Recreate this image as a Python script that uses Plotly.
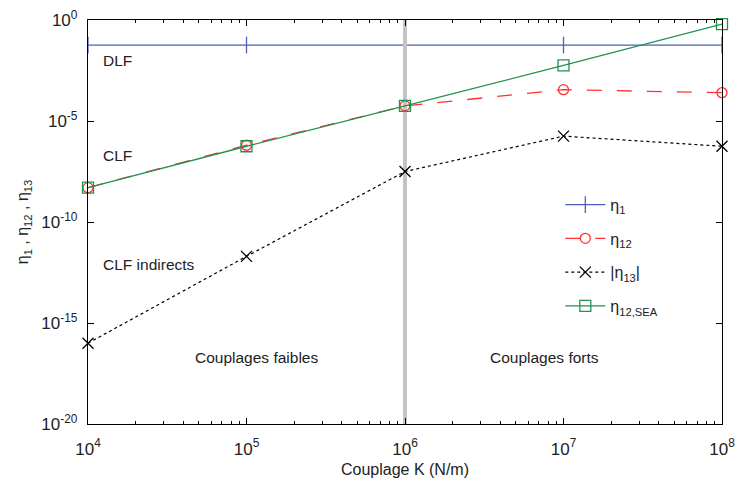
import plotly.graph_objects as go

K = [1e4, 1e5, 1e6, 1e7, 1e8]
eta1 = [10**-1.24] * 5
eta12 = [10**-8.3, 10**-6.2, 10**-4.25, 10**-3.45, 10**-3.6]
eta13 = [10**-16.0, 10**-11.7, 10**-7.5, 10**-5.75, 10**-6.25]
eta12_sea = [10**-8.3, 10**-6.25, 10**-4.25, 10**-2.25, 10**-0.2]
sep_x = [1e6, 1e6]
sep_y = [1e0, 1e-20]

x_tickvals = [1e4, 1e5, 1e6, 1e7, 1e8]
x_ticktext = ["10<sup>4</sup>", "10<sup>5</sup>", "10<sup>6</sup>", "10<sup>7</sup>", "10<sup>8</sup>"]
y_tickvals = [1e0, 1e-5, 1e-10, 1e-15, 1e-20]
y_ticktext = ["10<sup>0</sup>", "10<sup>-5</sup>", "10<sup>-10</sup>", "10<sup>-15</sup>", "10<sup>-20</sup>"]
x_minor = [m * 10**d for d in range(4, 8) for m in range(2, 10)]

FONT = "Liberation Sans, Arial, sans-serif"

fig = go.Figure()

fig.add_trace(go.Scatter(x=K, y=eta1, mode="lines+markers", name="η<sub>1</sub>", legendgroup="a",
                         line=dict(color="#4a5fc0", width=1.3),
                         marker=dict(symbol="line-ns", size=12, line=dict(color="#4a5fc0", width=1.3)),
                         cliponaxis=False))
# vertical separator at K = 1e6
fig.add_trace(go.Scatter(x=sep_x, y=sep_y, mode="lines", showlegend=False, hoverinfo="skip",
                         line=dict(color="#c4c4c4", width=4)))
fig.add_trace(go.Scatter(x=K, y=eta12, mode="lines+markers", name="η<sub>12</sub>", legendgroup="b",
                         line=dict(color="#ff3030", width=1.3, dash="longdash"),
                         marker=dict(symbol="circle-open", size=10, color="#ff3030", line=dict(width=1.3)),
                         cliponaxis=False))
fig.add_trace(go.Scatter(x=K, y=eta13, mode="lines+markers", name="|η<sub>13</sub>|", legendgroup="c",
                         line=dict(color="black", width=1.2, dash="dot"),
                         marker=dict(symbol="x-thin", size=11, color="black", line=dict(width=1.3, color="black")),
                         cliponaxis=False))
fig.add_trace(go.Scatter(x=K, y=eta12_sea, mode="lines+markers", name="η<sub>12,SEA</sub>", legendgroup="d",
                         line=dict(color="#23924f", width=1.3),
                         marker=dict(symbol="square-open", size=11, color="#23924f", line=dict(width=1.3)),
                         cliponaxis=False))

annots = [
    ("DLF", 4.08, -2.0, "left"),
    ("CLF", 4.08, -6.7, "left"),
    ("CLF indirects", 4.08, -12.1, "left"),
    ("Couplages faibles", 5.06, -16.7, "center"),
    ("Couplages forts", 6.88, -16.7, "center"),
]
for t, x, y, al in annots:
    fig.add_annotation(x=x, y=y, text=t, showarrow=False,
                       xanchor=al, yanchor="middle", font=dict(size=15.5, color="#222", family=FONT))

fig.update_xaxes(type="log", range=[4, 8], tickvals=x_tickvals, ticktext=x_ticktext,
                 ticks="inside", ticklen=6, tickcolor="black", showline=True, linecolor="black",
                 linewidth=1.3, mirror="allticks", showgrid=False, zeroline=False, automargin=False,
                 ticklabelstandoff=9,
                 minor=dict(tickvals=x_minor, ticks="inside", ticklen=3, tickcolor="black", showgrid=False),
                 title=dict(text="Couplage K (N/m)", font=dict(size=16, family=FONT), standoff=6),
                 tickfont=dict(size=17, family=FONT, color="#222"))
fig.update_yaxes(type="log", range=[-20, 0], tickvals=y_tickvals, ticktext=y_ticktext,
                 ticks="inside", ticklen=6, tickcolor="black", showline=True, linecolor="black",
                 linewidth=1.3, mirror="allticks", showgrid=False, zeroline=False, automargin=False,
                 ticklabelstandoff=6,
                 title=dict(text="η<sub>1</sub> , η<sub>12</sub> , η<sub>13</sub>", font=dict(size=16, family=FONT), standoff=8),
                 tickfont=dict(size=17, family=FONT, color="#222"))

fig.update_layout(
    width=736, height=488,
    margin=dict(l=88, r=14, t=20, b=64),
    paper_bgcolor="white", plot_bgcolor="white",
    font=dict(family=FONT, color="#222"),
    legend=dict(x=0.745, y=0.585, xanchor="left", yanchor="top", bgcolor="rgba(0,0,0,0)",
                font=dict(size=16, family=FONT), tracegroupgap=10, traceorder="grouped", itemwidth=40),
)

fig.write_html("out.html", config={"displayModeBar": False},
               post_script="document.body.style.margin='0';")
